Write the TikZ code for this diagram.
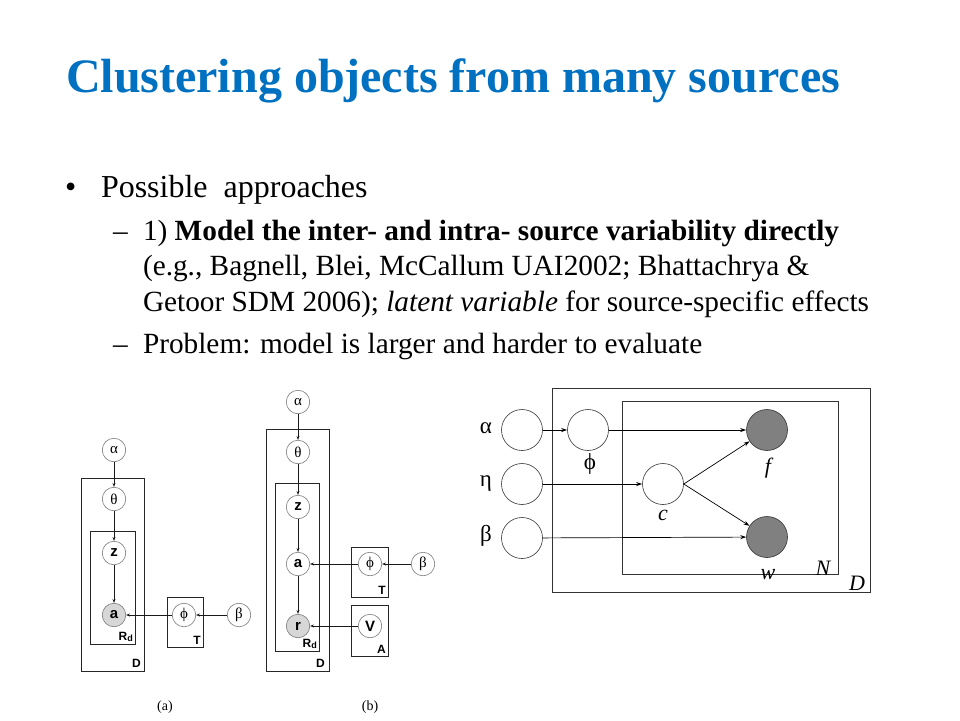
\documentclass[tikz,border=0pt]{standalone}
\usepackage{fontspec}
\setmainfont{Liberation Serif}
\newfontfamily\sansb{Liberation Sans}
\usetikzlibrary{arrows.meta}
\definecolor{titleblue}{RGB}{0,112,192}
\definecolor{smallring}{RGB}{120,120,120}
\definecolor{lightshade}{RGB}{215,215,215}
\definecolor{darkfill}{RGB}{128,128,128}
\tikzset{
  txt/.style={anchor=base west, inner sep=0pt, outer sep=0pt},
  snode/.style={circle, draw=smallring, line width=0.6pt, minimum size=23.5pt, inner sep=0pt, fill=white, font=\sansb\bfseries\fontsize{15}{15}\selectfont},
  gnode/.style={snode, font=\rmfamily\fontsize{15}{15}\selectfont},
  shaded/.style={fill=lightshade},
  plate/.style={draw=black!85, line width=0.8pt},
  platelabel/.style={inner sep=0pt, anchor=base east, font=\sansb\bfseries\fontsize{12}{12}\selectfont},
  sarr/.style={draw=black!90, line width=0.7pt, -{Stealth[length=4pt,width=3pt]}},
  bnode/.style={circle, draw=black!80, line width=0.6pt, minimum size=41pt, inner sep=0pt, fill=white},
  dark/.style={fill=darkfill},
  barr/.style={draw=black, line width=0.7pt, -{Stealth[length=6pt,width=4pt]}},
  blabel/.style={inner sep=0pt, font=\fontsize{23}{23}\selectfont},
  ilabel/.style={inner sep=0pt, font=\itshape\fontsize{22}{22}\selectfont},
  bodyfont/.style={font=\fontsize{29.3}{29.3}\selectfont},
}
\begin{document}
\begin{tikzpicture}[x=1pt,y=-1pt]
\useasboundingbox (0,0) rectangle (960,720);
\fill[white] (0,0) rectangle (960,720);

% ---------------- Title and text ----------------
\node[txt, text=titleblue, font=\fontsize{48}{48}\selectfont\bfseries] (title) at (66,92) {Clustering objects from many sources};
\node[txt, font=\fontsize{32}{32}\selectfont] (bul) at (65,197) {\textbullet};
\node[txt, font=\fontsize{32}{32}\selectfont] (l0) at (101,197) {Possible\ \ approaches};
\node[txt, bodyfont] (d1) at (113,240) {--};
\node[txt, bodyfont] (l1) at (143,240) {1) \textbf{Model the inter- and intra- source variability directly}};
\node[txt, bodyfont] (l2) at (143,275) {(e.g., Bagnell, Blei, McCallum UAI2002; Bhattachrya \&};
\node[txt, bodyfont] (l3) at (143,311) {Getoor SDM 2006); \textit{latent variable} for source-specific effects};
\node[txt, bodyfont] (d2) at (113,353) {--};
\node[txt, bodyfont] (l4) at (143,353) {Problem: model is larger and harder to evaluate};

% ---------------- Diagram (a) ----------------
\draw[plate] (81,478) rectangle (144,671);
\draw[plate] (90,531) rectangle (135,644);
\draw[plate] (167,597) rectangle (203,647);
\node[platelabel] (aD) at (141,667) {D};
\node[platelabel] (aR) at (133,640) {R\raisebox{-0.25ex}{\fontsize{9}{9}\selectfont d}};
\node[platelabel] (aT) at (201,644) {T};
\node[gnode] (aalpha) at (114,450) {α};
\node[gnode] (atheta) at (114,499) {θ};
\node[snode] (az) at (114,553) {z};
\node[snode, shaded] (aa) at (114,615) {a};
\node[gnode] (aphi) at (184,615) {ϕ};
\node[gnode] (abeta) at (239,615) {β};
\draw[sarr] (aalpha) -- (atheta);
\draw[sarr] (atheta) -- (az);
\draw[sarr] (az) -- (aa);
\draw[sarr] (aphi) -- (aa);
\draw[sarr] (abeta) -- (aphi);
\node[inner sep=0pt, font=\fontsize{14}{14}\selectfont] (capa) at (165,707) {(a)};

% ---------------- Diagram (b) ----------------
\draw[plate] (266,429) rectangle (329,671);
\draw[plate] (275,483) rectangle (319,651);
\draw[plate] (351,547) rectangle (388,597);
\draw[plate] (351,605) rectangle (388,656);
\node[platelabel] (bD) at (325,667) {D};
\node[platelabel] (bR) at (317,647) {R\raisebox{-0.25ex}{\fontsize{9}{9}\selectfont d}};
\node[platelabel] (bT) at (386,594) {T};
\node[platelabel] (bA) at (386,653) {A};
\node[gnode] (balpha) at (298,402) {α};
\node[gnode] (btheta) at (298,452) {θ};
\node[snode] (bz) at (298,507) {z};
\node[snode] (ba) at (298,564) {a};
\node[snode, shaded] (br) at (298,626) {r};
\node[gnode] (bphi) at (370,564) {ϕ};
\node[gnode] (bbeta) at (423,564) {β};
\node[snode] (bV) at (370,626) {V};
\draw[sarr] (balpha) -- (btheta);
\draw[sarr] (btheta) -- (bz);
\draw[sarr] (bz) -- (ba);
\draw[sarr] (ba) -- (br);
\draw[sarr] (bphi) -- (ba);
\draw[sarr] (bbeta) -- (bphi);
\draw[sarr] (bV) -- (br);
\node[inner sep=0pt, font=\fontsize{14}{14}\selectfont] (capb) at (370,707) {(b)};

% ---------------- Right diagram ----------------
\draw[draw=black!80, line width=0.8pt] (552,388) rectangle (870,592);
\draw[draw=black!80, line width=0.8pt] (622,401) rectangle (838,574);
\node[bnode] (ralpha) at (522,430) {};
\node[bnode] (reta) at (522,484) {};
\node[bnode] (rbeta) at (522,538) {};
\node[bnode] (rphi) at (588,430) {};
\node[bnode] (rc) at (663,484) {};
\node[bnode, dark] (rf) at (767,430) {};
\node[bnode, dark] (rw) at (767,537) {};
\node[blabel] (lalpha) at (486,428) {α};
\node[blabel] (leta) at (486,484) {η};
\node[blabel] (lbeta) at (486,536) {β};
\node[blabel] (lphi) at (590,464) {ϕ};
\node[ilabel] (lc) at (663,515) {c};
\node[ilabel] (lf) at (768,468) {f};
\node[ilabel] (lw) at (768,575) {w};
\node[ilabel] (lN) at (823,568) {N};
\node[ilabel] (lD) at (857,583) {D};
\draw[barr] (ralpha) -- (rphi);
\draw[barr] (rphi) -- (rf);
\draw[barr] (reta) -- (rc);
\draw[barr] (rc.east) -- (rf);
\draw[barr] (rc.east) -- (rw);
\draw[barr] (rbeta) -- (rw);
\end{tikzpicture}
\end{document}
